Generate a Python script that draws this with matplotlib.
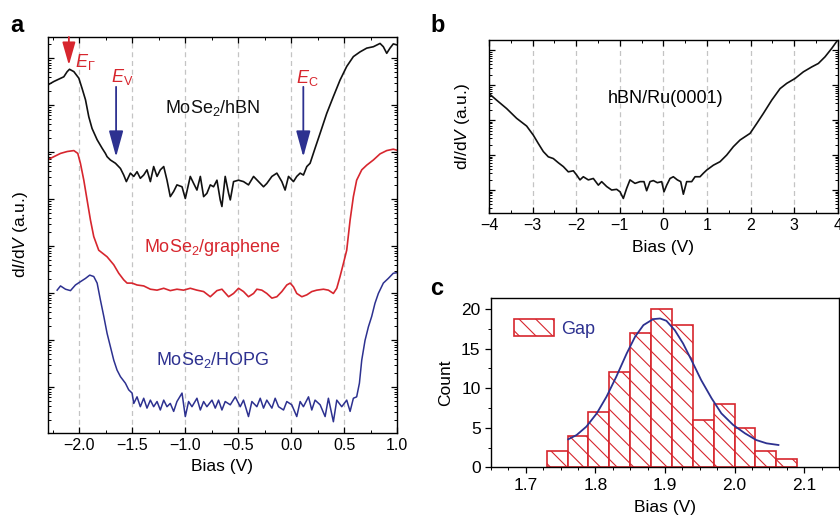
import numpy as np
import matplotlib
matplotlib.use("Agg")
import matplotlib.pyplot as plt
from matplotlib.ticker import LogLocator, NullFormatter, MultipleLocator

plt.rcParams['font.family'] = ['Liberation Sans', 'DejaVu Sans']
plt.rcParams['mathtext.fontset'] = 'custom'
plt.rcParams['mathtext.rm'] = 'Liberation Sans'
plt.rcParams['mathtext.it'] = 'Liberation Sans:italic'
plt.rcParams['hatch.linewidth'] = 0.8

RED = '#d7262e'
BLUE = '#2d3190'
GRID = '#c4c4c4'
TICK_FS = 11.5
LABEL_FS = 12.5

# ---- panel a: STS spectra, values are log10(dI/dV)
hbn_bias = [-2.296, -2.242, -2.195, -2.148, -2.116, -2.094, -2.053, -2.006, -1.975, -1.943,
            -1.912, -1.881, -1.833, -1.786, -1.755, -1.739, -1.708, -1.660, -1.613, -1.582,
            -1.557, -1.519, -1.487, -1.456, -1.425, -1.393, -1.362, -1.330, -1.299, -1.267,
            -1.236, -1.204, -1.173, -1.142, -1.110, -1.079, -1.031, -1.000, -0.953, -0.921,
            -0.890, -0.858, -0.827, -0.796, -0.764, -0.733, -0.701, -0.670, -0.654, -0.623,
            -0.591, -0.575, -0.544, -0.497, -0.450, -0.403, -0.355, -0.308, -0.261, -0.230,
            -0.182, -0.135, -0.088, -0.057, -0.025, 0.022, 0.053, 0.085, 0.116, 0.148,
            0.179, 0.226, 0.274, 0.336, 0.399, 0.462, 0.525, 0.588, 0.651, 0.714,
            0.777, 0.840, 0.871, 0.903, 0.934, 0.965, 0.997]
hbn_log = [7.43, 7.50, 7.55, 7.60, 7.71, 7.76, 7.71, 7.57, 7.35, 7.11,
           6.75, 6.50, 6.26, 6.08, 5.97, 5.90, 5.83, 5.76, 5.65, 5.51,
           5.37, 5.55, 5.48, 5.58, 5.44, 5.51, 5.62, 5.37, 5.69, 5.48,
           5.62, 5.69, 5.40, 5.05, 5.16, 5.30, 5.26, 5.01, 5.48, 5.33,
           5.19, 5.48, 5.05, 5.12, 5.30, 5.26, 5.40, 4.98, 4.84, 5.48,
           5.12, 4.98, 5.37, 5.40, 5.37, 5.30, 5.48, 5.37, 5.26, 5.33,
           5.48, 5.55, 5.37, 5.19, 5.48, 5.37, 5.48, 5.55, 5.51, 5.69,
           5.76, 6.08, 6.40, 6.82, 7.18, 7.53, 7.82, 8.03, 8.13, 8.21,
           8.24, 8.31, 8.24, 8.10, 8.21, 8.30, 8.28]

gr_bias = [-2.296, -2.242, -2.179, -2.116, -2.053, -2.016, -1.991, -1.959, -1.928, -1.896,
           -1.865, -1.818, -1.739, -1.676, -1.629, -1.582, -1.550, -1.503, -1.456, -1.393,
           -1.330, -1.267, -1.204, -1.142, -1.079, -1.016, -0.953, -0.890, -0.827, -0.764,
           -0.701, -0.654, -0.591, -0.544, -0.497, -0.450, -0.403, -0.355, -0.324, -0.277,
           -0.230, -0.182, -0.135, -0.088, -0.041, -0.009, 0.022, 0.053, 0.101, 0.148,
           0.195, 0.242, 0.305, 0.352, 0.399, 0.431, 0.462, 0.494, 0.525, 0.557,
           0.588, 0.619, 0.667, 0.714, 0.777, 0.840, 0.903, 0.965, 0.997]
gr_log = [5.84, 5.90, 5.97, 6.01, 6.03, 5.97, 5.76, 5.40, 4.98, 4.55,
          4.20, 3.91, 3.77, 3.60, 3.42, 3.28, 3.21, 3.21, 3.17, 3.15,
          3.08, 3.06, 3.10, 3.05, 3.08, 3.06, 3.10, 3.06, 3.03, 2.92,
          3.05, 3.08, 2.92, 2.99, 3.10, 3.03, 2.92, 2.99, 3.08, 3.06,
          2.99, 2.89, 2.92, 3.03, 3.17, 3.21, 3.13, 2.99, 2.92, 2.96,
          3.03, 3.06, 3.08, 3.06, 2.99, 3.10, 3.35, 3.63, 3.91, 4.55,
          5.05, 5.40, 5.62, 5.72, 5.83, 5.96, 6.03, 6.06, 6.04]

hopg_bias = [-2.211, -2.179, -2.132, -2.085, -2.038, -1.991, -1.943, -1.903, -1.865, -1.833,
             -1.802, -1.770, -1.739, -1.708, -1.676, -1.645, -1.613, -1.566, -1.535, -1.503,
             -1.487, -1.456, -1.425, -1.393, -1.362, -1.330, -1.299, -1.267, -1.236, -1.204,
             -1.173, -1.142, -1.110, -1.079, -1.031, -1.000, -0.969, -0.937, -0.890, -0.858,
             -0.827, -0.796, -0.748, -0.717, -0.686, -0.654, -0.623, -0.575, -0.528, -0.481,
             -0.450, -0.403, -0.371, -0.324, -0.292, -0.261, -0.230, -0.182, -0.151, -0.119,
             -0.072, -0.041, 0.006, 0.053, 0.085, 0.116, 0.164, 0.195, 0.226, 0.274,
             0.321, 0.352, 0.399, 0.431, 0.478, 0.525, 0.557, 0.588, 0.619, 0.645,
             0.667, 0.698, 0.730, 0.761, 0.792, 0.824, 0.871, 0.918, 0.965, 0.997]
hopg_log = [3.06, 3.15, 3.08, 3.05, 3.17, 3.24, 3.31, 3.38, 3.35, 3.21,
            2.85, 2.50, 2.14, 1.86, 1.57, 1.36, 1.22, 1.08, 0.94, 0.87,
            0.65, 0.79, 0.58, 0.76, 0.55, 0.72, 0.58, 0.69, 0.51, 0.72,
            0.58, 0.65, 0.48, 0.69, 0.87, 0.37, 0.69, 0.58, 0.76, 0.51,
            0.69, 0.58, 0.72, 0.55, 0.72, 0.51, 0.69, 0.62, 0.79, 0.58,
            0.72, 0.37, 0.69, 0.58, 0.76, 0.55, 0.72, 0.55, 0.76, 0.58,
            0.51, 0.69, 0.62, 0.37, 0.69, 0.58, 0.79, 0.51, 0.72, 0.62,
            0.37, 0.76, 0.26, 0.72, 0.58, 0.72, 0.48, 0.76, 0.79, 1.08,
            1.57, 1.99, 2.28, 2.50, 2.78, 2.99, 3.21, 3.31, 3.42, 3.43]

# band edge markers (bias in V)
e_gamma = -2.10
e_v = -1.654
e_c = 0.115

# ---- panel b: hBN/Ru(0001)
ru_bias = [-4.0, -3.824, -3.595, -3.365, -3.136, -2.983, -2.868, -2.753, -2.639, -2.524,
           -2.409, -2.294, -2.180, -2.065, -1.989, -1.912, -1.836, -1.721, -1.606, -1.491,
           -1.415, -1.300, -1.185, -1.071, -0.994, -0.918, -0.841, -0.765, -0.650, -0.535,
           -0.444, -0.383, -0.306, -0.229, -0.138, -0.038, 0.015, 0.077, 0.153, 0.229,
           0.321, 0.398, 0.459, 0.535, 0.650, 0.727, 0.841, 0.918, 0.994, 1.147,
           1.300, 1.453, 1.606, 1.759, 1.989, 2.141, 2.294, 2.486, 2.677, 2.830,
           3.021, 3.212, 3.403, 3.556, 3.709, 3.862, 4.0]
ru_log = [2.76, 2.57, 2.33, 2.05, 1.83, 1.57, 1.33, 1.10, 0.95, 0.90,
          0.78, 0.67, 0.52, 0.55, 0.43, 0.29, 0.38, 0.29, 0.33, 0.14,
          0.24, 0.10, 0.00, 0.02, -0.05, -0.24, 0.05, 0.29, 0.19, 0.24,
          0.24, -0.02, 0.24, 0.27, 0.21, 0.24, -0.05, 0.14, 0.33, 0.38,
          0.29, 0.24, -0.12, 0.24, 0.24, 0.38, 0.38, 0.48, 0.57, 0.71,
          0.81, 1.00, 1.24, 1.43, 1.62, 1.90, 2.19, 2.57, 2.90, 3.05,
          3.19, 3.38, 3.52, 3.62, 3.81, 4.05, 4.29]

# ---- panel c: gap histogram
bin_left = [1.73, 1.76, 1.79, 1.82, 1.85, 1.88, 1.91, 1.94, 1.97, 2.00, 2.03, 2.06]
bin_width = 0.03
counts = [2, 4, 7, 12, 17, 20, 18, 6, 8, 5, 2, 1]
fit_x = [1.761, 1.773, 1.787, 1.802, 1.816, 1.830, 1.845, 1.857, 1.869, 1.883,
         1.893, 1.902, 1.914, 1.926, 1.938, 1.952, 1.967, 1.981, 1.998, 2.015,
         2.031, 2.046, 2.063]
fit_y = [3.54, 4.08, 5.14, 6.82, 8.93, 11.45, 14.40, 16.51, 17.98, 18.74,
         18.82, 18.53, 17.35, 15.66, 13.56, 11.03, 8.72, 6.82, 5.35, 4.29,
         3.45, 3.03, 2.82]

fig = plt.figure(figsize=(8.4, 5.21), dpi=100)

ax_a = fig.add_axes([0.0568, 0.1695, 0.4158, 0.7595])
ax_b = fig.add_axes([0.5821, 0.5917, 0.4152, 0.3315])
ax_c = fig.add_axes([0.5845, 0.1031, 0.4143, 0.3255])

def log_axis(ax):
    ax.set_yscale('log')
    ax.yaxis.set_major_locator(LogLocator(base=10, numticks=30))
    ax.yaxis.set_minor_locator(LogLocator(base=10, subs=np.arange(2, 10), numticks=30))
    ax.yaxis.set_major_formatter(NullFormatter())
    ax.yaxis.set_minor_formatter(NullFormatter())
    ax.tick_params(which='both', direction='in', top=True, right=True, labelsize=TICK_FS)
    ax.tick_params(which='major', length=4.5, width=0.9)
    ax.tick_params(which='minor', length=2.5, width=0.7)
    for s in ax.spines.values():
        s.set_linewidth(1.0)

# panel a
ax_a.plot(hbn_bias, 10 ** np.array(hbn_log), color='#111111', lw=1.2)
ax_a.plot(gr_bias, 10 ** np.array(gr_log), color=RED, lw=1.2)
ax_a.plot(hopg_bias, 10 ** np.array(hopg_log), color=BLUE, lw=1.1)
log_axis(ax_a)
ax_a.set_xlim(-2.3, 1.0)
ax_a.set_ylim(10 ** 0.027, 10 ** 8.447)
ax_a.xaxis.set_minor_locator(MultipleLocator(0.25))
ax_a.set_xticks([-2.0, -1.5, -1.0, -0.5, 0.0, 0.5, 1.0])
ax_a.set_xticklabels(['\u22122.0', '\u22121.5', '\u22121.0', '\u22120.5', '0.0', '0.5', '1.0'])
for g in [-2.0, -1.5, -1.0, -0.5, 0.0, 0.5]:
    ax_a.axvline(g, color=GRID, lw=0.9, ls=(0, (4, 3)), zorder=0)
ax_a.set_xlabel('Bias (V)', fontsize=LABEL_FS, labelpad=5)
ax_a.set_ylabel(r'd$\it{I}$/d$\it{V}$ (a.u.)', fontsize=LABEL_FS, labelpad=9)

trans = ('data', 'axes fraction')
ax_a.annotate('', xy=(e_gamma, 0.929), xytext=(e_gamma, 1.0), xycoords=trans, textcoords=trans,
              arrowprops=dict(arrowstyle='-|>,head_length=0.7,head_width=0.2', color=RED,
                              lw=1.3, mutation_scale=20, shrinkA=0, shrinkB=0))
for ev in [e_v, e_c]:
    ax_a.annotate('', xy=(ev, 0.697), xytext=(ev, 0.874), xycoords=trans, textcoords=trans,
                  arrowprops=dict(arrowstyle='-|>,head_length=0.8,head_width=0.22', color=BLUE,
                                  lw=1.3, mutation_scale=20, shrinkA=0, shrinkB=0))
xt = ax_a.get_xaxis_transform()
ax_a.text(-1.943, 0.937, r'$\it{E}_{\Gamma}$', transform=xt,
          color=RED, fontsize=13, ha='center', va='center')
ax_a.text(-1.594, 0.899, r'$\it{E}_{\rm V}$', transform=xt,
          color=RED, fontsize=13, ha='center', va='center')
ax_a.text(0.151, 0.896, r'$\it{E}_{\rm C}$', transform=xt,
          color=RED, fontsize=13, ha='center', va='center')
ax_a.text(-0.745, 0.821, r'MoSe$_2$/hBN', transform=xt,
          color='#111111', fontsize=13, ha='center', va='center')
ax_a.text(-0.745, 0.469, r'MoSe$_2$/graphene', transform=xt,
          color=RED, fontsize=13, ha='center', va='center')
ax_a.text(-0.745, 0.184, r'MoSe$_2$/HOPG', transform=xt,
          color=BLUE, fontsize=13, ha='center', va='center')

# panel b
ax_b.plot(ru_bias, 10 ** np.array(ru_log), color='#111111', lw=1.2)
log_axis(ax_b)
ax_b.set_xlim(-4, 4)
ax_b.set_ylim(10 ** -0.649, 10 ** 4.29)
ax_b.xaxis.set_minor_locator(MultipleLocator(0.5))
ax_b.set_xticks(range(-4, 5))
ax_b.set_xticklabels(['\u22124', '\u22123', '\u22122', '\u22121', '0', '1', '2', '3', '4'])
for g in range(-3, 4):
    ax_b.axvline(g, color=GRID, lw=0.9, ls=(0, (4, 3)), zorder=0)
ax_b.set_xlabel('Bias (V)', fontsize=LABEL_FS, labelpad=5)
ax_b.set_ylabel(r'd$\it{I}$/d$\it{V}$ (a.u.)', fontsize=LABEL_FS, labelpad=9)
ax_b.text(0.05, 10 ** 2.63, 'hBN/Ru(0001)', fontsize=13, ha='center', va='center')

# panel c
bars = ax_c.bar(bin_left, counts, width=bin_width, align='edge', facecolor='white',
                edgecolor=RED, hatch='\\\\', lw=1.2, label='Gap')
ax_c.plot(fit_x, fit_y, color=BLUE, lw=1.3)
ax_c.set_xlim(1.65, 2.15)
ax_c.set_ylim(0, 21.45)
ax_c.xaxis.set_minor_locator(MultipleLocator(0.025))
ax_c.yaxis.set_major_locator(MultipleLocator(5))
ax_c.yaxis.set_minor_locator(MultipleLocator(2.5))
ax_c.set_xticks([1.7, 1.8, 1.9, 2.0, 2.1])
ax_c.set_xticklabels(['1.7', '1.8', '1.9', '2.0', '2.1'])
ax_c.tick_params(which='both', direction='out', labelsize=12.5)
ax_c.tick_params(which='major', length=4, width=0.9)
ax_c.tick_params(which='minor', length=2.5, width=0.7)
for s in ax_c.spines.values():
    s.set_linewidth(1.0)
ax_c.set_xlabel('Bias (V)', fontsize=LABEL_FS, labelpad=5)
ax_c.set_ylabel('Count', fontsize=LABEL_FS, labelpad=6)
leg = ax_c.legend(loc='upper left', bbox_to_anchor=(0.02, 0.97), frameon=False,
                  fontsize=13, handlelength=2.2, handleheight=1.1, handletextpad=0.4)
for t in leg.get_texts():
    t.set_color(BLUE)

fig.text(0.012, 0.952, 'a', fontsize=17, fontweight='bold', va='center')
fig.text(0.512, 0.952, 'b', fontsize=17, fontweight='bold', va='center')
fig.text(0.512, 0.447, 'c', fontsize=17, fontweight='bold', va='center')

fig.savefig('out.png', dpi=100)
